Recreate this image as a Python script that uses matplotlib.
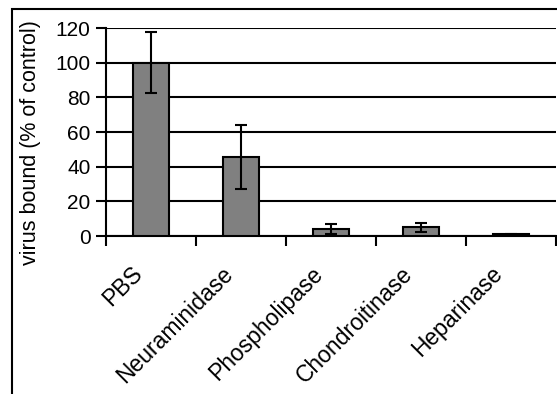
import numpy as np
import matplotlib.pyplot as plt
import matplotlib.transforms as mtransforms
from matplotlib.patches import Rectangle

categories = ["PBS", "Neuraminidase", "Phospholipase", "Chondroitinase", "Heparinase"]
values = [100, 45.5, 4, 5, 1]
errors = [17.5, 18.5, 3, 2.5, 0.3]
yticks = [0, 20, 40, 60, 80, 100, 120]

plt.rcParams['font.family'] = ['Liberation Sans', 'DejaVu Sans']

W, H = 557, 394
fig = plt.figure(figsize=(W / 100, H / 100), dpi=100)
ax = fig.add_axes([106 / W, 1 - 236 / H, 450 / W, 208 / H])

x = np.arange(len(categories))
ax.bar(x, values, width=0.41, color="#808080", edgecolor="black", linewidth=1.5, zorder=3)
ax.errorbar(x, values, yerr=errors, fmt="none", ecolor="black", elinewidth=1.5,
            capsize=4, capthick=1.5, zorder=4)

ax.set_xlim(-0.5, len(categories) - 0.5)
ax.set_ylim(0, 120)
ax.set_yticks(yticks)
ax.yaxis.grid(True, color="black", linewidth=1.5, zorder=0)
ax.set_axisbelow(True)

ax.set_xticks(x)
ax.set_xticklabels(categories, rotation=45, ha="right", va="top",
                   rotation_mode="anchor", fontsize=16.5)
ax.tick_params(axis="x", which="major", length=0, pad=19)
ax.set_xticks(np.arange(len(categories) + 1) - 0.5, minor=True)
ax.tick_params(axis="x", which="minor", length=7, width=1.5, direction="out")
ax.tick_params(axis="y", length=7, width=1.5, labelsize=15, pad=4)

# shift the rotated labels a little to the left
offset = mtransforms.ScaledTranslation(-20 / 100, 0, fig.dpi_scale_trans)
for lab in ax.get_xticklabels():
    lab.set_transform(lab.get_transform() + offset)

for s in ["top", "right"]:
    ax.spines[s].set_visible(False)
for s in ["left", "bottom"]:
    ax.spines[s].set_linewidth(1.5)

ax.set_ylabel("virus bound (% of control)", fontsize=15.5)
ax.yaxis.set_label_coords(-0.145, 0.45)

fig.patches.append(Rectangle((12 / W, -0.1), 1.2, 1 - 9 / H + 0.1, transform=fig.transFigure,
                             fill=False, edgecolor="black", linewidth=1.5))

fig.savefig("out.png", dpi=100)
